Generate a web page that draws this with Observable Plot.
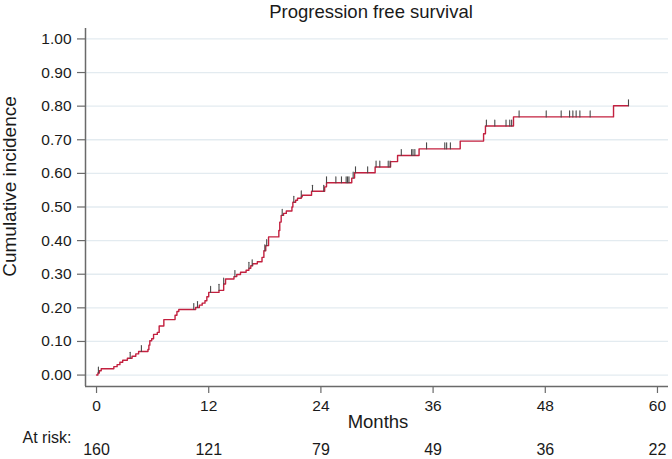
<!DOCTYPE html>
<html>
<head>
<meta charset="utf-8">
<script src="https://cdn.jsdelivr.net/npm/d3@7"></script>
<script src="https://cdn.jsdelivr.net/npm/@observablehq/plot@0.6"></script>
<style>
  html, body { margin: 0; padding: 0; background: #fff; }
</style>
</head>
<body>
<div id="chart"></div>
<script>
// Step times (months) and cumulative incidence after each step
const eventTimes = [0, 0.15, 0.3, 0.5, 1.85, 2.2, 2.5, 2.8, 3.3, 3.8, 4.2, 4.5, 5.5, 5.6, 5.7, 5.9, 6.1, 6.5, 6.7, 7.2,
  8.4, 8.6, 8.8, 10.6, 11.0, 11.3, 11.6, 11.8, 12.0, 13.1, 13.6, 13.8, 14.7, 15.0, 15.4, 16.0, 16.3, 16.5, 16.7, 17.2,
  17.7, 17.9, 18.1, 18.4, 19.5, 19.6, 19.75, 20.0, 20.3, 20.9, 21.0, 21.3, 21.5, 21.9, 22.0, 23.0, 24.4, 24.6, 27.3, 27.6,
  29.8, 31.45, 32.2, 34.5, 38.9, 41.4, 41.6, 44.6, 55.3, 56.9];
const cumIncidence = [0, 0.006, 0.013, 0.019, 0.025, 0.031, 0.038, 0.044, 0.05, 0.056, 0.063, 0.07, 0.076, 0.089, 0.102, 0.108, 0.121, 0.127, 0.146, 0.165,
  0.178, 0.189, 0.195, 0.201, 0.208, 0.214, 0.221, 0.233, 0.246, 0.252, 0.271, 0.286, 0.293, 0.299, 0.306, 0.312, 0.318, 0.325, 0.331, 0.337,
  0.35, 0.37, 0.385, 0.411, 0.43, 0.455, 0.475, 0.481, 0.488, 0.50, 0.514, 0.52, 0.526, 0.53, 0.535, 0.547, 0.56, 0.572, 0.586, 0.602,
  0.619, 0.635, 0.653, 0.673, 0.696, 0.718, 0.741, 0.768, 0.801, 0.801];
// Censoring times (months)
const censorTimes = [0.2, 3.6, 4.8, 10.4, 10.8, 12.2, 13.1, 13.6, 14.8, 16.3, 16.65, 18.0, 18.2, 19.86, 21.1, 21.9, 23.1, 24.3, 24.6,
  25.6, 26.2, 26.7, 26.85, 27.0, 27.45, 27.7, 29.0, 29.9, 30.3, 31.2, 31.4, 32.6, 33.7, 33.85, 34.05, 35.3, 37.25, 37.45, 37.85,
  41.7, 42.6, 43.8, 44.2, 44.4, 45.2, 48.1, 49.7, 50.6, 50.95, 51.3, 51.7, 52.8, 56.9];
// Axis ticks and at-risk table
const xTicks = [0, 12, 24, 36, 48, 60];
const yTicks = [0, 0.1, 0.2, 0.3, 0.4, 0.5, 0.6, 0.7, 0.8, 0.9, 1.0];
const atRisk = [160, 121, 79, 49, 36, 22];

const curve = eventTimes.map((t, i) => ({t, v: cumIncidence[i]}));
const stepAt = t => cumIncidence[Math.max(0, d3.bisectRight(eventTimes, t) - 1)];
const censored = censorTimes.map(t => ({t, v: stepAt(t)}));
const riskRows = xTicks.map((t, i) => ({t, n: atRisk[i]}));

const xDomain = [-1.18, 61.18];
const yDomain = [-0.034, 1.031];

const lineShape = {
  draw(context, l) {
    context.moveTo(0, 0);
    context.lineTo(0, -l);
  }
};

const font = "'Liberation Sans', Arial, Helvetica, sans-serif";

const chart = Plot.plot({
  width: 672,
  height: 459,
  marginLeft: 85,
  marginRight: 4,
  marginTop: 28,
  marginBottom: 73,
  style: {fontFamily: font, fontSize: "15.5px", color: "#1a1a1a", background: "#fff", overflow: "visible"},
  x: {domain: xDomain},
  y: {domain: yDomain},
  marks: [
    Plot.ruleY(yTicks, {y: d => d, stroke: "#e3ebf0", strokeWidth: 1.3}),
    Plot.axisX({ticks: xTicks, tickSize: 7, tickPadding: 6, stroke: "#6a6a6a", strokeWidth: 1.2, fill: "#1a1a1a", label: null, tickFormat: d => String(d)}),
    Plot.axisY({ticks: yTicks, tickSize: 8, tickPadding: 6, stroke: "#6a6a6a", strokeWidth: 1.2, fill: "#1a1a1a", label: null, tickFormat: d3.format(".2f")}),
    Plot.ruleX([xDomain[0]], {stroke: "#6a6a6a", strokeWidth: 1.5}),
    Plot.ruleY([yDomain[0]], {stroke: "#6a6a6a", strokeWidth: 1.5}),
    Plot.line(curve, {x: "t", y: "v", curve: "step-after", stroke: "#c3203f", strokeWidth: 1.4}),
    Plot.vector(censored, {x: "t", y: "v", length: 6, rotate: 0, anchor: "start", shape: lineShape, stroke: "#4a4a4a", strokeWidth: 1.1}),
    Plot.text(["Progression free survival"], {frameAnchor: "top", textAnchor: "middle", dx: -6, dy: -16, lineAnchor: "middle", fontSize: 18.5, fill: "#1a1a1a"}),
    Plot.text(["Months"], {frameAnchor: "bottom", textAnchor: "middle", dx: 1, dy: 36, lineAnchor: "middle", fontSize: 18.5, fill: "#1a1a1a"}),
    Plot.text(["Cumulative incidence"], {frameAnchor: "left", textAnchor: "middle", rotate: -90, dx: -76, dy: -21, lineAnchor: "middle", fontSize: 19, fill: "#1a1a1a"}),
    Plot.text(["At risk:"], {frameAnchor: "bottom-left", textAnchor: "start", dx: -63, dy: 51, lineAnchor: "middle", fontSize: 16, fill: "#1a1a1a"}),
    Plot.text(riskRows, {x: "t", text: d => String(d.n), frameAnchor: "bottom", textAnchor: "middle", dy: 63, lineAnchor: "middle", fontSize: 16, fill: "#1a1a1a"})
  ]
});

document.getElementById("chart").appendChild(chart);
</script>
</body>
</html>
